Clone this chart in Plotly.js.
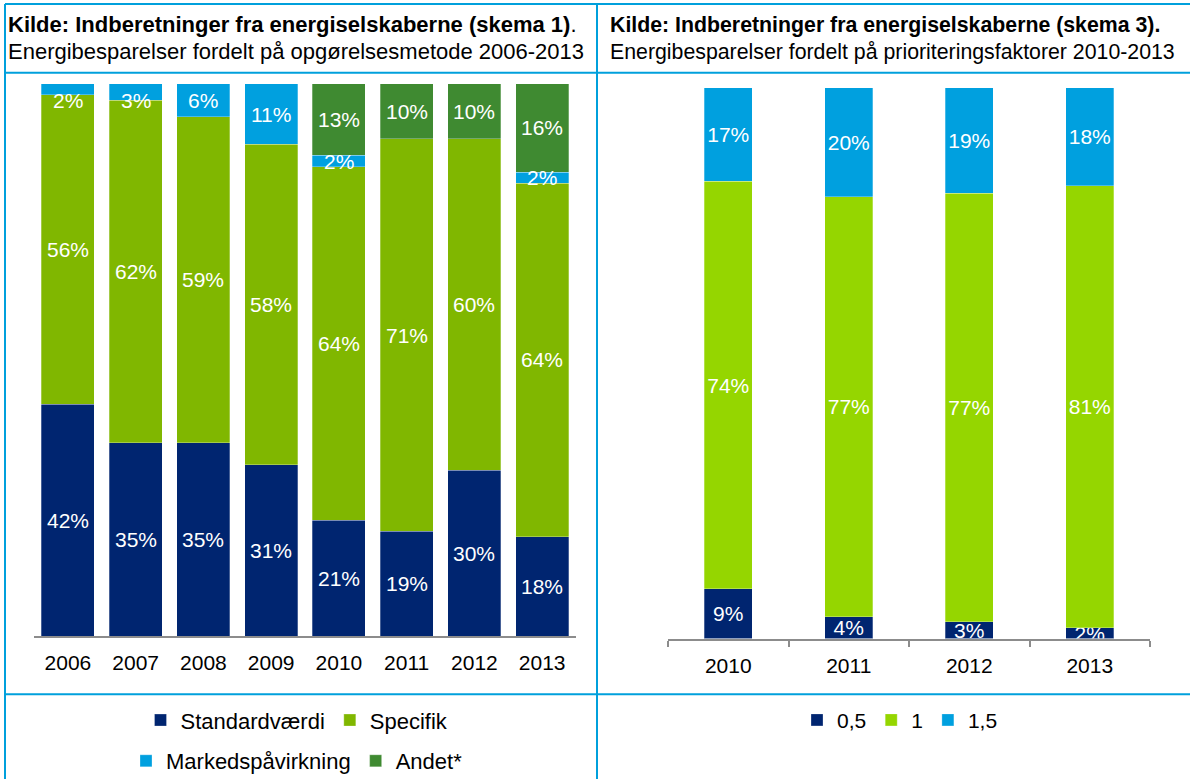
<!DOCTYPE html>
<html>
<head>
<meta charset="utf-8">
<script src="https://cdn.plot.ly/plotly-3.0.1.min.js"></script>
<style>
  html, body { margin: 0; padding: 0; background: #ffffff; }
  #chart { width: 1190px; height: 782px; }
</style>
</head>
<body>
<div id="chart"></div>
<script>
// ---- Data: left chart (skema 1) ----
const years1 = ['2006', '2007', '2008', '2009', '2010', '2011', '2012', '2013'];
const standardvaerdi = [42, 35, 35, 31, 21, 19, 30, 18];
const specifik = [56, 62, 59, 58, 64, 71, 60, 64];
const markedspaavirkning = [2, 3, 6, 11, 2, 0, 0, 2];
const andet = [0, 0, 0, 0, 13, 10, 10, 16];
const seriesNames1 = ['Standardværdi', 'Specifik', 'Markedspåvirkning', 'Andet*'];

// ---- Data: right chart (skema 3) ----
const years2 = ['2010', '2011', '2012', '2013'];
const faktor05 = [9, 4, 3, 2];
const faktor1 = [74, 77, 77, 81];
const faktor15 = [17, 20, 19, 18];
const seriesNames2 = ['0,5', '1', '1,5'];

// ---- Texts ----
const header1Bold = 'Kilde: Indberetninger fra energiselskaberne (skema 1)';
const header1Sub = 'Energibesparelser fordelt på opgørelsesmetode 2006-2013';
const header2Bold = 'Kilde: Indberetninger fra energiselskaberne (skema 3).';
const header2Sub = 'Energibesparelser fordelt på prioriteringsfaktorer 2010-2013';

// ---- Styles ----
const FONT = 'Liberation Sans, Arial, sans-serif';
const NAVY = '#002570';
const GREEN_L = '#80b700';
const GREEN_R = '#95d600';
const CYAN = '#00a0df';
const DKGREEN = '#3f8a31';
const BORDER = '#00a0dc';
const AXIS = '#8c8c8c';
const W = 1190, H = 782;
const px = v => v / W;
const py = v => 1 - v / H;

const leftSeries = [standardvaerdi, specifik, markedspaavirkning, andet];
const leftColors = [NAVY, GREEN_L, CYAN, DKGREEN];
const leftLegends = ['legend', 'legend', 'legend2', 'legend2'];

const traces = [];
leftSeries.forEach((vals, i) => {
  traces.push({
    type: 'bar', x: years1, y: vals, name: seriesNames1[i],
    xaxis: 'x', yaxis: 'y', width: 0.78,
    marker: { color: leftColors[i], line: { width: 0.8, color: 'rgba(255,255,255,0.35)' } },
    legend: leftLegends[i], hoverinfo: 'skip'
  });
});

const rightSeries = [faktor05, faktor1, faktor15];
const rightColors = [NAVY, GREEN_R, CYAN];
rightSeries.forEach((vals, i) => {
  traces.push({
    type: 'bar', x: years2, y: vals, name: seriesNames2[i],
    xaxis: 'x2', yaxis: 'y2', width: 0.4,
    marker: { color: rightColors[i], line: { width: 0.8, color: 'rgba(255,255,255,0.35)' } },
    text: vals.map(v => v + '%'), textposition: 'inside', insidetextanchor: 'middle',
    textangle: 0, constraintext: 'none',
    textfont: { family: FONT, size: 21, color: '#ffffff' },
    legend: 'legend3', hoverinfo: 'skip'
  });
});

// Data labels for left chart, placed at segment centres (x = category index)
const annotations = [];
years1.forEach((yr, j) => {
  const total = leftSeries.reduce((s, arr) => s + arr[j], 0);
  let base = 0;
  leftSeries.forEach(arr => {
    const v = arr[j];
    const p = v / total * 100;
    if (v > 0) {
      const mid = Math.min(base + p / 2, 97);
      annotations.push({
        xref: 'x', yref: 'y', x: j, y: mid, text: v + '%', showarrow: false,
        font: { family: FONT, size: 21, color: '#ffffff' }, xanchor: 'center', yanchor: 'middle'
      });
    }
    base += p;
  });
});

// Header texts
annotations.push(
  { xref: 'paper', yref: 'paper', x: px(6), y: py(25), xanchor: 'left', yanchor: 'middle', showarrow: false,
    text: '<b>' + header1Bold + '</b>.', font: { family: FONT, size: 22, color: '#000' } },
  { xref: 'paper', yref: 'paper', x: px(6), y: py(52), xanchor: 'left', yanchor: 'middle', showarrow: false,
    text: header1Sub, font: { family: FONT, size: 22, color: '#000' } },
  { xref: 'paper', yref: 'paper', x: px(608), y: py(25), xanchor: 'left', yanchor: 'middle', showarrow: false,
    text: '<b>' + header2Bold + '</b>', font: { family: FONT, size: 21.3, color: '#000' } },
  { xref: 'paper', yref: 'paper', x: px(608), y: py(52), xanchor: 'left', yanchor: 'middle', showarrow: false,
    text: header2Sub, font: { family: FONT, size: 21.3, color: '#000' } }
);

const line = (x0, y0, x1, y1) => ({
  type: 'line', xref: 'paper', yref: 'paper', x0: px(x0), y0: py(y0), x1: px(x1), y1: py(y1),
  line: { color: BORDER, width: 2 }, layer: 'above'
});
const shapes = [
  line(5, 4, W, 4),
  line(5, 73, W, 73),
  line(5, 697, W, 697),
  line(5, 4, 5, H),
  line(597, 4, 597, H)
];

const legendBase = {
  orientation: 'h', xanchor: 'center', yanchor: 'middle', bgcolor: 'rgba(0,0,0,0)',
  font: { family: FONT, size: 22, color: '#000' }, traceorder: 'normal', itemclick: false, itemdoubleclick: false
};

const layout = {
  width: W, height: H, autosize: false,
  margin: { l: 0, r: 0, t: 0, b: 0, pad: 0 },
  paper_bgcolor: '#ffffff', plot_bgcolor: 'rgba(0,0,0,0)',
  barmode: 'stack', barnorm: 'percent',
  font: { family: FONT, size: 21, color: '#000' },
  showlegend: true,
  xaxis: {
    domain: [px(34), px(576)], anchor: 'y', type: 'category', range: [-0.5, years1.length - 0.5],
    showline: true, linecolor: AXIS, linewidth: 2, showgrid: false, zeroline: false,
    ticks: '', ticklabelstandoff: 7,
    tickfont: { family: FONT, size: 21, color: '#000' }, fixedrange: true
  },
  yaxis: {
    domain: [py(638.5), py(84)], anchor: 'x', range: [0, 100], visible: false, fixedrange: true
  },
  xaxis2: {
    domain: [px(668), px(1150)], anchor: 'y2', type: 'category', range: [-0.5, years2.length - 0.5],
    showline: true, linecolor: AXIS, linewidth: 2, showgrid: false, zeroline: false,
    ticks: 'outside', tickson: 'boundaries', ticklen: 6, tickwidth: 2, tickcolor: AXIS,
    ticklabelstandoff: 7,
    tickfont: { family: FONT, size: 21, color: '#000' }, fixedrange: true
  },
  yaxis2: {
    domain: [py(641), py(88)], anchor: 'x2', range: [0, 100], visible: false, fixedrange: true
  },
  legend: Object.assign({}, legendBase, { x: px(297), y: py(723) }),
  legend2: Object.assign({}, legendBase, { x: px(297), y: py(764) }),
  legend3: Object.assign({}, legendBase, { x: px(900), y: py(723), font: { family: FONT, size: 21, color: '#000' } }),
  annotations: annotations,
  shapes: shapes
};

Plotly.newPlot('chart', traces, layout, { displayModeBar: false, staticPlot: true });
</script>
</body>
</html>
